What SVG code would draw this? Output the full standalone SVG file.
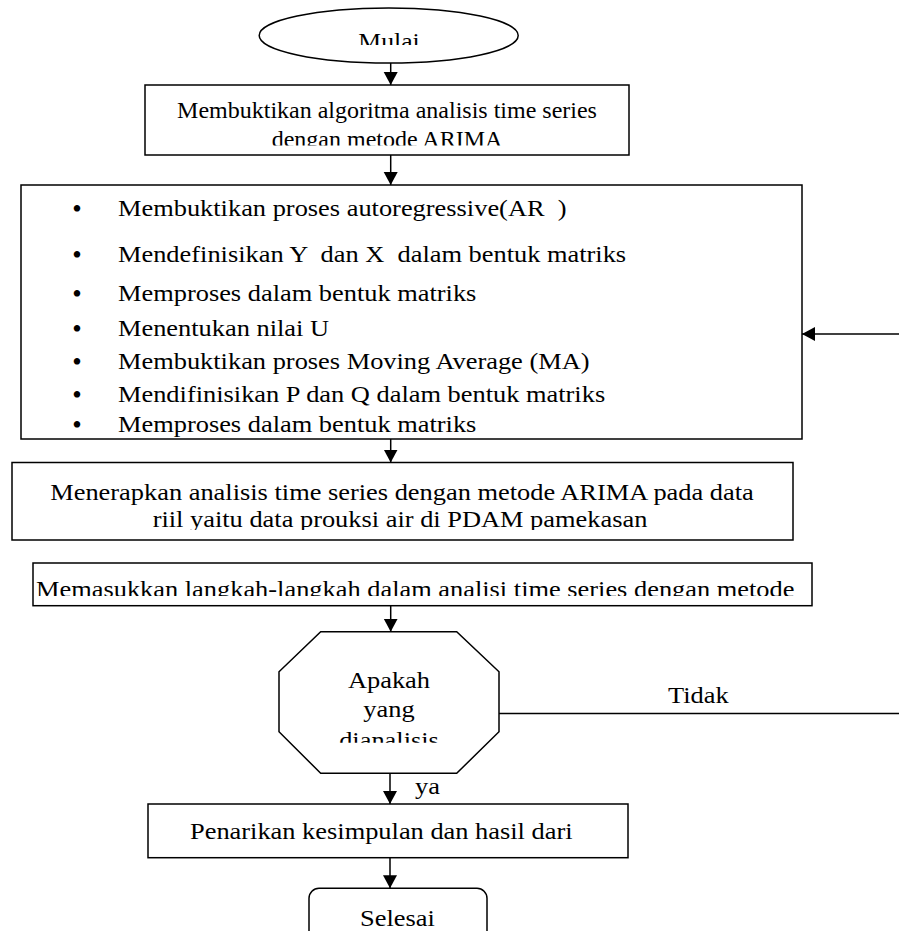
<svg xmlns="http://www.w3.org/2000/svg" width="899" height="931" viewBox="0 0 899 931">
<style>
.s{fill:#fff;stroke:#000;stroke-width:1.5}
.t{font-family:"Liberation Serif","Times New Roman",serif;font-size:24px;fill:#000;white-space:pre}
.b{font-family:"Liberation Serif","Times New Roman",serif;font-size:27px;fill:#000;text-anchor:middle}
.c{text-anchor:middle}
.ln{stroke:#000;stroke-width:1.5;fill:none}
</style>
<defs>
<marker id="ah" markerUnits="userSpaceOnUse" markerWidth="14" markerHeight="15" refX="13" refY="7" orient="auto">
<path d="M0,0 L13,7 L0,14 z" fill="#000"/>
</marker>
<clipPath id="cMulai"><rect x="259" y="0" width="260" height="45"/></clipPath>
<clipPath id="cB1"><rect x="145" y="85" width="484" height="60.5"/></clipPath>
<clipPath id="cB2"><rect x="21" y="185" width="781" height="253"/></clipPath>
<clipPath id="cB3"><rect x="12" y="462" width="781" height="68"/></clipPath>
<clipPath id="cB4"><rect x="33" y="563" width="779" height="33"/></clipPath>
<clipPath id="cOct"><rect x="279" y="632" width="220" height="110.7"/></clipPath>
</defs>
<rect width="899" height="931" fill="#fff"/>

<g id="connectors">
<line class="ln" x1="390.7" y1="63" x2="390.7" y2="85" marker-end="url(#ah)"/>
<line class="ln" x1="390.7" y1="155" x2="390.7" y2="185" marker-end="url(#ah)"/>
<line class="ln" x1="390.7" y1="439" x2="390.7" y2="462.5" marker-end="url(#ah)"/>
<line class="ln" x1="390.7" y1="605.7" x2="390.7" y2="631.7" marker-end="url(#ah)"/>
<line class="ln" x1="390" y1="773.3" x2="390" y2="804" marker-end="url(#ah)"/>
<line class="ln" x1="390" y1="857.7" x2="390" y2="888.3" marker-end="url(#ah)"/>
<line class="ln" x1="899" y1="334" x2="802" y2="334" marker-end="url(#ah)"/>
<line class="ln" x1="499" y1="713.5" x2="899" y2="713.5"/>
<text class="t" transform="translate(668,703) scale(1.1,1)">Tidak</text>
<text class="t" transform="translate(415,794) scale(1.1,1)">ya</text>
</g>

<g id="mulai">
<ellipse class="s" cx="388.7" cy="35.5" rx="129.5" ry="27.5"/>
<g clip-path="url(#cMulai)"><text class="t c" transform="translate(389,49) scale(1.07,1)">Mulai</text></g>
</g>

<g id="box1">
<rect class="s" x="145" y="85" width="484" height="70"/>
<g clip-path="url(#cB1)">
<text class="t c" x="387" y="118">Membuktikan algoritma analisis time series</text>
<text class="t c" x="387" y="147">dengan metode ARIMA</text>
</g>
</g>

<g id="box2">
<rect class="s" x="21" y="185" width="781" height="254"/>
<g clip-path="url(#cB2)">
<text class="b" x="77" y="218">•</text>
<text class="b" x="77" y="264">•</text>
<text class="b" x="77" y="302.5">•</text>
<text class="b" x="77" y="337.5">•</text>
<text class="b" x="77" y="371">•</text>
<text class="b" x="77" y="403.5">•</text>
<text class="b" x="77" y="434">•</text>
<text class="t" transform="translate(118,216) scale(1.1,1)">Membuktikan proses autoregressive(AR  )</text>
<text class="t" transform="translate(118,262) scale(1.1,1)">Mendefinisikan Y  dan X  dalam bentuk matriks</text>
<text class="t" transform="translate(118,300.5) scale(1.1,1)">Memproses dalam bentuk matriks</text>
<text class="t" transform="translate(118,335.5) scale(1.1,1)">Menentukan nilai U</text>
<text class="t" transform="translate(118,369) scale(1.1,1)">Membuktikan proses Moving Average (MA)</text>
<text class="t" transform="translate(118,401.5) scale(1.1,1)">Mendifinisikan P dan Q dalam bentuk matriks</text>
<text class="t" transform="translate(118,432) scale(1.1,1)">Memproses dalam bentuk matriks</text>
</g>
</g>

<g id="box3">
<rect class="s" x="12" y="462.5" width="781" height="77.5"/>
<g clip-path="url(#cB3)">
<text class="t c" transform="translate(402,500) scale(1.1,1)">Menerapkan analisis time series dengan metode ARIMA pada data</text>
<text class="t c" transform="translate(400,527) scale(1.1,1)">riil yaitu data prouksi air di PDAM pamekasan</text>
</g>
</g>

<g id="box4">
<rect class="s" x="33" y="563" width="779" height="42.7"/>
<g clip-path="url(#cB4)">
<text class="t" transform="translate(36,597) scale(1.1,1)">Memasukkan langkah-langkah dalam analisi time series dengan metode</text>
</g>
</g>

<g id="decision">
<polygon class="s" points="320.7,631.7 456.7,631.7 499,671.7 499,731.7 456.7,773.3 320.7,773.3 279,731.7 279,671.7"/>
<g clip-path="url(#cOct)">
<text class="t c" transform="translate(389,688) scale(1.1,1)">Apakah</text>
<text class="t c" transform="translate(389,716.5) scale(1.1,1)">yang</text>
<text class="t c" transform="translate(389,748) scale(1.1,1)">dianalisis</text>
</g>
</g>

<g id="box5">
<rect class="s" x="148" y="804" width="480" height="53.7"/>
<text class="t" transform="translate(190,839) scale(1.1,1)">Penarikan kesimpulan dan hasil dari</text>
</g>

<g id="selesai">
<rect class="s" x="309" y="888.3" width="178" height="70" rx="10" ry="10"/>
<text class="t" transform="translate(360,926) scale(1.1,1)">Selesai</text>
</g>
</svg>
